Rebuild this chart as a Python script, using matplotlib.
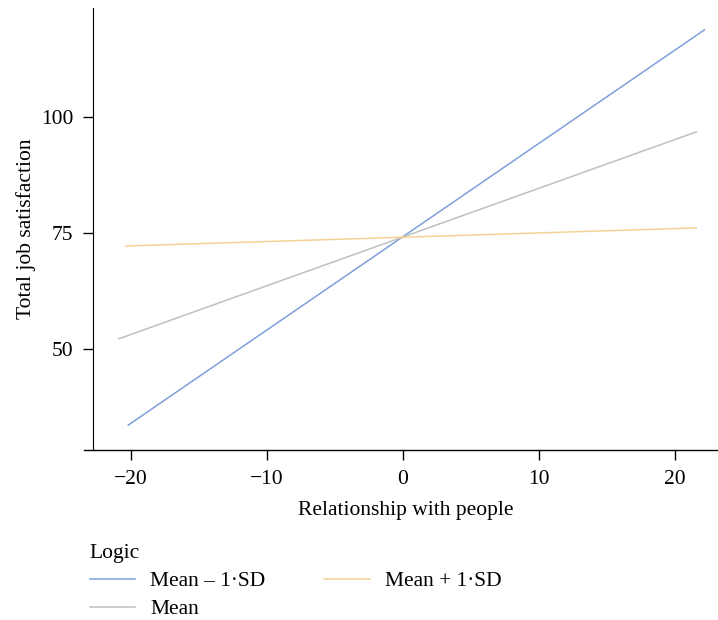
import numpy as np
import matplotlib.pyplot as plt
from matplotlib.lines import Line2D

plt.rcParams['font.family'] = ['Liberation Serif', 'DejaVu Serif']

# simple slopes: start/end points
labels = ['Mean \u2013 1\u00b7SD', 'Mean', 'Mean + 1\u00b7SD']
colors = ['#7d9fdc', '#bfbfbf', '#f3d196']
x_start = [-20.2, -20.9, -20.4]
x_end = [22.2, 21.6, 21.6]
y_start = [33.6, 52.2, 72.2]
y_end = [118.8, 96.8, 76.1]

fig = plt.figure(figsize=(7.18, 6.2), dpi=100)
ax = fig.add_axes([0.1295, 0.274, 0.8705, 0.713])

for i in range(3):
    ax.plot([x_start[i], x_end[i]], [y_start[i], y_end[i]], color=colors[i], lw=1.1, label=labels[i])

ax.set_xlim(-22.8, 23.2)
ax.set_ylim(28.2, 123.5)
ax.set_xticks([-20, -10, 0, 10, 20])
ax.set_yticks([50, 75, 100])
ax.tick_params(direction='out', length=7, width=1, labelsize=15.5, pad=7)
for s in ['top', 'right']:
    ax.spines[s].set_visible(False)
ax.spines['bottom'].set_visible(False)
ax.add_line(Line2D([-0.015, 1], [0, 0], transform=ax.transAxes, color='black', lw=1, clip_on=False))

ax.set_xlabel('Relationship with people', fontsize=15.5, labelpad=9)
ax.set_ylabel('Total job satisfaction', fontsize=15.5, labelpad=4)

leg = fig.legend(loc='upper left', bbox_to_anchor=(0.110, 0.14), ncol=2, title='Logic',
                 frameon=False, fontsize=15.5, title_fontsize=15.5, handlelength=2.1,
                 handletextpad=0.7, columnspacing=2.75, labelspacing=0.38, borderpad=0)
leg._legend_box.align = 'left'

fig.savefig('out.png', dpi=100)
